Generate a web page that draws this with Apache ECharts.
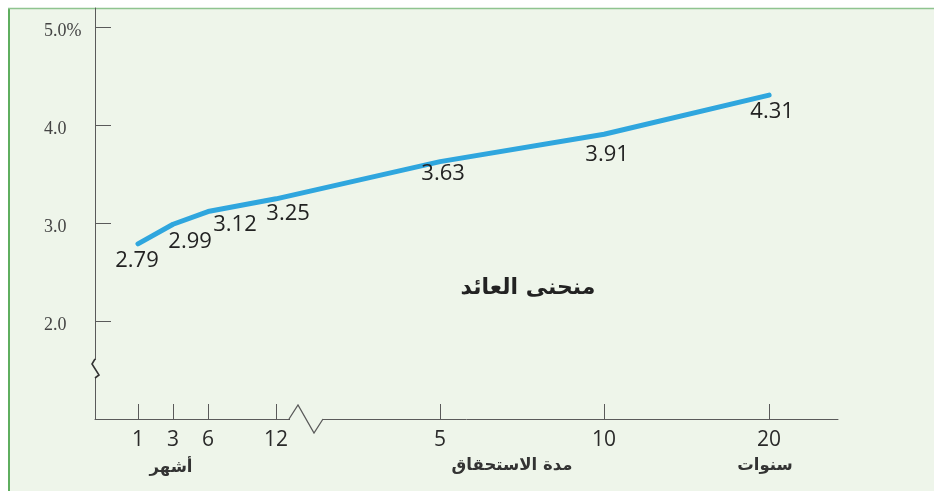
<!DOCTYPE html>
<html>
<head>
<meta charset="utf-8">
<script src="https://cdn.jsdelivr.net/npm/echarts@6/dist/echarts.min.js"></script>
<style>
html,body{margin:0;padding:0;background:#fff;}
#chart{width:934px;height:491px;}
</style>
</head>
<body>
<div id="chart"></div>
<script>
// ---- data ----
const categories = ['1', '3', '6', '12', '5', '10', '20'];
// position of each maturity along the (broken) horizontal scale
const xPositions = [2.62, 4.76, 6.89, 11.04, 21.04, 31.04, 41.1];
const yields = [2.79, 2.99, 3.12, 3.25, 3.63, 3.91, 4.31];
const yTicks = [2, 3, 4, 5];
const yTickLabels = ['2.0', '3.0', '4.0', '5.0%'];
const titleText = 'منحنى العائد';
const monthsText = 'أشهر';
const maturityText = 'مدة الاستحقاق';
const yearsText = 'سنوات';

// label offsets (style only)
const labelOffsets = [[-1, 17], [17, 17], [27, 13], [12, 15], [3, 12], [3, 20], [3, 17]];

const BG = '#EEF5EA';
const AXIS = '#5a5a5a';

const chart = echarts.init(document.getElementById('chart'), null, {renderer: 'canvas'});

const seriesData = xPositions.map((x, i) => ({
  value: [x, yields[i]],
  label: {offset: labelOffsets[i]}
}));

chart.setOption({
  backgroundColor: '#ffffff',
  animation: false,
  grid: {left: 95, right: 96, top: 8, bottom: 72, containLabel: false},
  xAxis: {
    type: 'value', min: 0, max: 45.3,
    axisLine: {show: true, lineStyle: {color: AXIS, width: 1}},
    axisTick: {show: true, inside: true, length: 15, customValues: xPositions, lineStyle: {color: AXIS}},
    axisLabel: {
      show: true, customValues: xPositions, margin: 11,
      fontFamily: 'Open Sans', fontSize: 21, color: '#2a2a2a',
      formatter: function (v) {
        let best = 0, d = Infinity;
        xPositions.forEach((p, i) => { if (Math.abs(p - v) < d) { d = Math.abs(p - v); best = i; } });
        return categories[best];
      }
    },
    splitLine: {show: false}
  },
  yAxis: {
    type: 'value', min: 1, max: 5.2,
    axisLine: {show: true, lineStyle: {color: AXIS, width: 1}},
    axisTick: {show: true, inside: true, length: 16, customValues: yTicks, lineStyle: {color: AXIS}},
    axisLabel: {
      show: true, customValues: yTicks, margin: 51, align: 'left',
      verticalAlign: 'top', lineHeight: 8,
      fontFamily: 'Liberation Serif', fontSize: 18, color: '#444',
      formatter: function (v) {
        const i = yTicks.indexOf(v);
        return i >= 0 ? yTickLabels[i] : '';
      }
    },
    splitLine: {show: false}
  },
  series: [{
    type: 'line',
    data: seriesData,
    symbol: 'circle', symbolSize: 1,
    itemStyle: {color: 'rgba(0,0,0,0)'},
    lineStyle: {color: '#2FA6DE', width: 5, cap: 'round', join: 'round'},
    z: 5,
    label: {
      show: true, position: 'inside',
      fontFamily: 'Open Sans', fontSize: 22, color: '#222',
      formatter: p => yields[p.dataIndex].toFixed(2)
    }
  }],
  graphic: [
    {type: 'rect', z: -10, silent: true, shape: {x: 8, y: 8, width: 926, height: 483}, style: {fill: BG}},
    {type: 'line', z: -9, silent: true, shape: {x1: 9, y1: 8, x2: 9, y2: 491}, style: {stroke: '#5FAE5F', lineWidth: 2}},
    {type: 'line', z: -9, silent: true, shape: {x1: 8, y1: 8.5, x2: 934, y2: 8.5}, style: {stroke: '#8FC48F', lineWidth: 1.5}},
    // x-axis break
    {type: 'rect', z: 10, silent: true, shape: {x: 290, y: 416, width: 33, height: 6}, style: {fill: BG}},
    {type: 'polyline', z: 11, silent: true, shape: {points: [[289, 419], [298, 405], [314, 433], [323, 419]]}, style: {stroke: AXIS, lineWidth: 1.3, fill: null}},
    // y-axis break
    {type: 'rect', z: 10, silent: true, shape: {x: 92, y: 360, width: 6, height: 17}, style: {fill: BG}},
    {type: 'polyline', z: 11, silent: true, shape: {points: [[95, 359], [92, 364], [99, 375], [95, 378]]}, style: {stroke: '#333', lineWidth: 1.6, fill: null}},
    // texts
    {type: 'text', z: 12, silent: true, x: 528, y: 288, style: {text: titleText, font: 'bold 22px "DejaVu Sans"', fill: '#222', align: 'center', verticalAlign: 'middle'}},
    {type: 'text', z: 12, silent: true, x: 171, y: 468, style: {text: monthsText, font: 'bold 16.5px "DejaVu Sans"', fill: '#333', align: 'center', verticalAlign: 'middle'}},
    {type: 'text', z: 12, silent: true, x: 512, y: 466, style: {text: maturityText, font: 'bold 16.5px "DejaVu Sans"', fill: '#333', align: 'center', verticalAlign: 'middle'}},
    {type: 'text', z: 12, silent: true, x: 765, y: 466, style: {text: yearsText, font: 'bold 16.5px "DejaVu Sans"', fill: '#333', align: 'center', verticalAlign: 'middle'}}
  ]
});
</script>
</body>
</html>
